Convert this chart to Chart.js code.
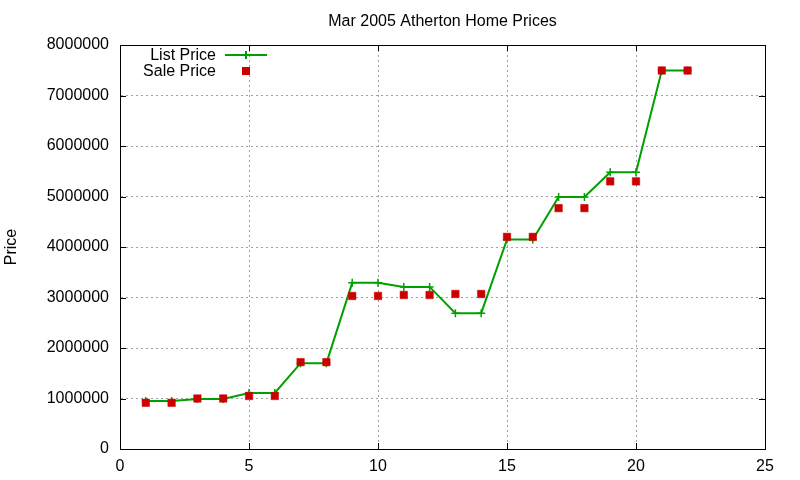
<!DOCTYPE html>
<html>
<head>
<meta charset="utf-8">
<script src="https://cdn.jsdelivr.net/npm/chart.js@4"></script>
<style>
  html, body { margin: 0; padding: 0; background: #fff; }
  canvas { display: block; }
</style>
</head>
<body>
<canvas id="priceChart" width="800" height="480"></canvas>
<script>
const chartTitle = "Mar 2005 Atherton Home Prices";
const yTitle = "Price";

// house number on the x axis
const houseIndex = [1, 2, 3, 4, 5, 6, 7, 8, 9, 10, 11, 12, 13, 14, 15, 16, 17, 18, 19, 20, 21, 22];

const listPrice = [950000, 950000, 990000, 990000, 1110000, 1110000, 1700000, 1700000,
  3290000, 3290000, 3210000, 3210000, 2690000, 2690000, 4150000, 4150000,
  4990000, 4990000, 5480000, 5480000, 7495000, 7495000];

const salePrice = [915000, 915000, 1000000, 1000000, 1050000, 1050000, 1720000, 1720000,
  3030000, 3030000, 3050000, 3050000, 3070000, 3070000, 4200000, 4200000,
  4770000, 4770000, 5300000, 5300000, 7495000, 7495000];

const FONT = "'Liberation Sans', Arial, sans-serif";
const GREEN = "#00a000";
const RED = "#cc0000";

function toPoints(values) {
  return houseIndex.map((x, i) => ({ x: x, y: values[i] }));
}

// gnuplot style frame: full box plus inward ticks on all sides
const framePlugin = {
  id: "frame",
  afterDatasetsDraw(chart) {
    const { ctx, chartArea: a, scales } = chart;
    ctx.save();
    ctx.strokeStyle = "#000";
    ctx.lineWidth = 1;
    ctx.setLineDash([]);
    ctx.strokeRect(Math.round(a.left) + 0.5, Math.round(a.top) + 0.5,
      Math.round(a.right - a.left), Math.round(a.bottom - a.top));
    const tl = 6;
    ctx.beginPath();
    scales.x.ticks.forEach((t) => {
      const px = Math.round(scales.x.getPixelForValue(t.value)) + 0.5;
      ctx.moveTo(px, a.bottom); ctx.lineTo(px, a.bottom - tl);
      ctx.moveTo(px, a.top); ctx.lineTo(px, a.top + tl);
    });
    scales.y.ticks.forEach((t) => {
      const py = Math.round(scales.y.getPixelForValue(t.value)) + 0.5;
      ctx.moveTo(a.left, py); ctx.lineTo(a.left + tl, py);
      ctx.moveTo(a.right, py); ctx.lineTo(a.right - tl, py);
    });
    ctx.stroke();
    ctx.restore();
  },
  afterDraw(chart) {
    const { ctx, chartArea: a } = chart;
    ctx.save();
    ctx.fillStyle = "#000";
    ctx.font = "16px " + FONT;
    ctx.textAlign = "center";
    ctx.textBaseline = "middle";
    ctx.fillText(chartTitle, (a.left + a.right) / 2, 22);

    // legend: text first, then sample (like gnuplot)
    const ds = chart.data.datasets;
    ctx.textAlign = "right";
    const rows = [56, 72];
    ds.forEach((d, i) => {
      const y = rows[i];
      ctx.fillStyle = "#000";
      ctx.fillText(d.label, 216, y);
      const sy = y - 1;
      if (d.showLine !== false) {
        ctx.strokeStyle = d.borderColor;
        ctx.lineWidth = 2;
        ctx.beginPath();
        ctx.moveTo(225, sy); ctx.lineTo(267, sy);
        ctx.moveTo(246, sy - 4); ctx.lineTo(246, sy + 4);
        ctx.stroke();
      } else {
        ctx.fillStyle = d.backgroundColor;
        ctx.fillRect(242, sy - 4, 8, 8);
      }
    });
    ctx.restore();
  }
};

new Chart(document.getElementById("priceChart"), {
  type: "line",
  data: {
    datasets: [
      {
        label: "List Price",
        data: toPoints(listPrice),
        borderColor: GREEN,
        backgroundColor: GREEN,
        borderWidth: 2,
        pointStyle: "cross",
        pointRadius: 4,
        pointBorderWidth: 1.5,
        tension: 0,
        order: 2
      },
      {
        label: "Sale Price",
        data: toPoints(salePrice),
        showLine: false,
        borderColor: RED,
        backgroundColor: RED,
        pointStyle: "rect",
        pointRadius: 5.3,
        pointBorderWidth: 0.5,
        order: 1
      }
    ]
  },
  options: {
    responsive: false,
    animation: false,
    devicePixelRatio: 1,
    layout: { padding: { top: 45, right: 35, left: 0, bottom: 0 } },
    plugins: {
      legend: { display: false },
      title: { display: false },
      tooltip: { enabled: false }
    },
    scales: {
      x: {
        type: "linear",
        min: 0,
        max: 25,
        ticks: { stepSize: 5, color: "#000", padding: 8, font: { family: FONT, size: 16 } },
        grid: { color: "#a0a0a0", drawTicks: false },
        border: { color: "#000", width: 1, dash: [2, 3] },
        afterFit(scale) { scale.height = 31; }
      },
      y: {
        min: 0,
        max: 8000000,
        ticks: {
          stepSize: 1000000,
          color: "#000",
          padding: 11,
          font: { family: FONT, size: 16 },
          callback: (value) => String(value)
        },
        grid: { color: "#a0a0a0", drawTicks: false },
        border: { color: "#000", width: 1, dash: [2, 3] },
        title: {
          display: true,
          text: yTitle,
          color: "#000",
          font: { family: FONT, size: 16 },
          padding: { top: 2, bottom: 0 }
        },
        afterFit(scale) { scale.width = 120; }
      }
    }
  },
  plugins: [framePlugin]
});
</script>
</body>
</html>
